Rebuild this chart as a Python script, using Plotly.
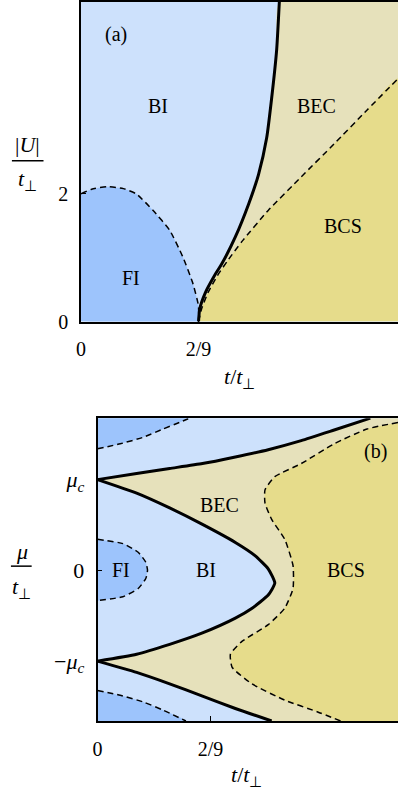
import plotly.graph_objects as go

# ---------------- data: panel (a) ----------------
fi_a_t = [0, 0.02, 0.0492, 0.08, 0.105, 0.136, 0.1675, 0.192, 0.211, 0.222, 0.2222]
fi_a_u = [2.0, 2.07, 2.11, 2.08, 1.995, 1.74, 1.43, 1.02, 0.61, 0.25, 0]

bec_a_t = [0.2222, 0.2245, 0.235, 0.2525, 0.267, 0.292, 0.317, 0.3356, 0.351, 0.3604, 0.370, 0.375]
bec_a_u = [0, 0.2, 0.45, 0.72, 0.915, 1.327, 1.84, 2.30, 2.87, 3.49, 4.26, 5.0]

bcs_a_t = [0.2222, 0.228, 0.240, 0.258, 0.277, 0.304, 0.354, 0.4164, 0.4787, 0.541, 0.5994]
bcs_a_u = [0, 0.2, 0.45, 0.72, 0.95, 1.25, 1.739, 2.264, 2.78, 3.31, 3.80]

# ---------------- data: panel (b) ----------------
outer_up_t = [0, 0.077, 0.142, 0.2066, 0.2713, 0.336, 0.401, 0.466, 0.537]
outer_up_m = [1.0, 1.068, 1.123, 1.177, 1.25, 1.33, 1.43, 1.547, 1.677]

outer_lo_t = [0, 0.077, 0.142, 0.2066, 0.2713, 0.3428]
outer_lo_m = [-1.0, -1.124, -1.25, -1.385, -1.522, -1.66]

inner_t = [0, 0.077, 0.142, 0.2066, 0.2713, 0.310, 0.336, 0.349, 0.336, 0.3043, 0.2713, 0.2066, 0.142, 0.077, 0]
inner_m = [1.0, 0.851, 0.688, 0.507, 0.308, 0.163, 0.017, -0.14, -0.272, -0.417, -0.526, -0.689, -0.815, -0.924, -1.0]

bcs_b_t = [0.5915, 0.5306, 0.4657, 0.401, 0.349, 0.3297, 0.3297, 0.3428, 0.3685, 0.3848,
           0.3848, 0.3685, 0.336, 0.2843, 0.2616, 0.265, 0.3038, 0.3685, 0.4334, 0.4787]
bcs_b_m = [1.63, 1.558, 1.395, 1.177, 1.033, 0.887, 0.742, 0.561, 0.343, 0.054,
           -0.2, -0.417, -0.598, -0.783, -0.924, -1.068, -1.25, -1.43, -1.56, -1.66]

fi_mid_t = [0, 0.05, 0.08, 0.095, 0.0984, 0.095, 0.08, 0.05, 0]
fi_mid_m = [0.343, 0.295, 0.20, 0.09, 0, -0.09, -0.20, -0.29, -0.334]

fi_top_t = [0, 0.0447, 0.09, 0.1289, 0.1613, 0.1808]
fi_top_m = [1.34, 1.395, 1.467, 1.558, 1.63, 1.677]

fi_bot_t = [0, 0.0447, 0.09, 0.1289, 0.174]
fi_bot_m = [-1.323, -1.377, -1.45, -1.54, -1.66]

XA = [0, 0.5994]
YA = [0, 5]
XB = [0, 0.5915]
YB = [-1.66, 1.677]

C_BI = "#cde1fc"
C_FI = "#9dc4fc"
C_BEC = "#e6e1bb"
C_BCS = "#e6dc8b"

FONT = "Liberation Serif"
SM = 0.5
DASH = "6px,4px"

fig = go.Figure()


def fill(x, y, color, xa, ya):
    fig.add_trace(go.Scatter(x=x, y=y, mode="lines", fill="toself", fillcolor=color,
                             line=dict(width=0, color=color, shape="spline", smoothing=SM),
                             xaxis=xa, yaxis=ya, hoverinfo="skip", showlegend=False))


def line(x, y, dash, w, xa, ya):
    fig.add_trace(go.Scatter(x=x, y=y, mode="lines",
                             line=dict(width=w, color="black", dash=dash, shape="spline", smoothing=SM),
                             xaxis=xa, yaxis=ya, hoverinfo="skip", showlegend=False))


# ---- panel (a) ----
fill(fi_a_t + [0], fi_a_u + [0], C_FI, "x", "y")
fill(bec_a_t + [XA[1], XA[1]], bec_a_u + [YA[1], 0], C_BEC, "x", "y")
fill(bcs_a_t + [XA[1]], bcs_a_u + [0], C_BCS, "x", "y")
line(fi_a_t, fi_a_u, DASH, 1.5, "x", "y")
line(bcs_a_t, bcs_a_u, DASH, 1.5, "x", "y")
line(bec_a_t, bec_a_u, "solid", 3, "x", "y")

# ---- panel (b) ----
bec_poly_t = outer_up_t + [XB[1], XB[1]] + outer_lo_t[::-1] + inner_t[::-1]
bec_poly_m = outer_up_m + [YB[1], YB[0]] + outer_lo_m[::-1] + inner_m[::-1]
fill(bec_poly_t, bec_poly_m, C_BEC, "x2", "y2")
fill(bcs_b_t + [XB[1]], bcs_b_m + [YB[0]], C_BCS, "x2", "y2")
fill(fi_mid_t, fi_mid_m, C_FI, "x2", "y2")
fill(fi_top_t + [0], fi_top_m + [YB[1]], C_FI, "x2", "y2")
fill(fi_bot_t + [0], fi_bot_m + [YB[0]], C_FI, "x2", "y2")
line(fi_mid_t, fi_mid_m, DASH, 1.5, "x2", "y2")
line(fi_top_t, fi_top_m, DASH, 1.5, "x2", "y2")
line(fi_bot_t, fi_bot_m, DASH, 1.5, "x2", "y2")
line(bcs_b_t, bcs_b_m, DASH, 1.5, "x2", "y2")
line(outer_up_t, outer_up_m, "solid", 3, "x2", "y2")
line(outer_lo_t, outer_lo_m, "solid", 3, "x2", "y2")
line(inner_t, inner_m, "solid", 3, "x2", "y2")

ax_common = dict(showgrid=False, zeroline=False, showline=True, linecolor="black", linewidth=1.5,
                 ticks="inside", ticklen=5, tickwidth=1, tickcolor="black", fixedrange=True,
                 tickfont=dict(family=FONT, size=20, color="black"))

fig.update_layout(
    width=398, height=804, margin=dict(l=0, r=0, t=0, b=0),
    paper_bgcolor="white", plot_bgcolor=C_BI, showlegend=False,
    xaxis=dict(domain=[77 / 398, 1.0], range=XA, tickvals=[0, 2 / 9], ticktext=["0", "2/9"],
               mirror=True, ticklabelstandoff=9, anchor="y", **ax_common),
    yaxis=dict(domain=[1 - 326 / 804, 1 - 2 / 804], range=YA, tickvals=[0, 2], ticktext=["0", "2"],
               mirror=False, ticklabelstandoff=7, anchor="x", **ax_common),
    xaxis2=dict(domain=[93.7 / 398, 1.0], range=XB, tickvals=[0, 2 / 9], ticktext=["0", "2/9"],
                mirror=True, ticklabelstandoff=9, anchor="y2", **ax_common),
    yaxis2=dict(domain=[1 - 731 / 804, 1 - 424 / 804], range=YB, tickvals=[-1, 0, 1],
                ticktext=["\u2212<i>\u03bc<sub>c</sub></i>", "0", "<i>\u03bc<sub>c</sub></i>"],
                mirror=False, ticklabelstandoff=7, anchor="x2",
                **{**ax_common, "tickfont": dict(family=FONT, size=22, color="black")}),
)

tf = dict(family=FONT, size=20, color="black")
tf2 = dict(family=FONT, size=22, color="black")
labels = [
    ("x", "y", 0.067, 4.49, "(a)"),
    ("x", "y", 0.1457, 3.38, "BI"),
    ("x", "y", 0.4444, 3.38, "BEC"),
    ("x", "y", 0.495, 1.50, "BCS"),
    ("x", "y", 0.0952, 0.68, "FI"),
    ("x2", "y2", 0.5467, 1.308, "(b)"),
    ("x2", "y2", 0.2397, 0.72, "BEC"),
    ("x2", "y2", 0.2144, 0.0, "BI"),
    ("x2", "y2", 0.0453, 0.0, "FI"),
    ("x2", "y2", 0.4884, 0.0, "BCS"),
]
for xr, yr, x, y, s in labels:
    fig.add_annotation(x=x, y=y, xref=xr, yref=yr, text=s, showarrow=False, font=tf)


def pa(px, py, s):
    fig.add_annotation(x=px / 398, y=1 - py / 804, xref="paper", yref="paper", text=s,
                       showarrow=False, font=tf2, xanchor="center", yanchor="middle")


pa(237, 383, "<i>t</i>/<i>t</i><sub>\u22a5</sub>")
pa(245, 787, "<i>t</i>/<i>t</i><sub>\u22a5</sub>")
pa(23, 147, "|<i>U</i>|")
pa(23, 183, "<i>t</i><sub>\u22a5</sub>")
pa(17, 559, "<i>\u03bc</i>")
pa(17, 596, "<i>t</i><sub>\u22a5</sub>")
fig.add_shape(type="line", xref="paper", yref="paper", x0=7 / 398, x1=39 / 398,
              y0=1 - 163 / 804, y1=1 - 163 / 804, line=dict(color="black", width=1.5))
fig.add_shape(type="line", xref="paper", yref="paper", x0=6 / 398, x1=27 / 398,
              y0=1 - 574 / 804, y1=1 - 574 / 804, line=dict(color="black", width=1.5))

fig.write_html("out.html", config={"displayModeBar": False},
               post_script="document.body.style.margin='0';document.body.style.overflow='hidden';")
